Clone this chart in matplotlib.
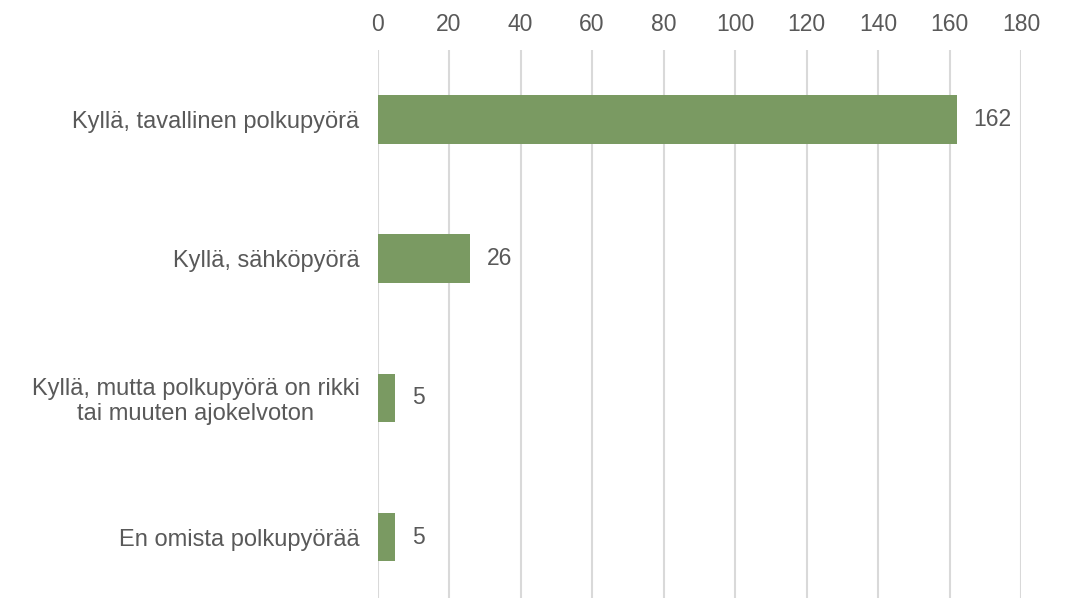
import matplotlib.pyplot as plt

categories = ["Kyllä, tavallinen polkupyörä",
              "Kyllä, sähköpyörä",
              "Kyllä, mutta polkupyörä on rikki\ntai muuten ajokelvoton",
              "En omista polkupyörää"]
values = [162, 26, 5, 5]
ticks = [0, 20, 40, 60, 80, 100, 120, 140, 160, 180]

plt.rcParams['font.family'] = ['Liberation Sans', 'DejaVu Sans']
txt = "#595959"

fig = plt.figure(figsize=(10.68, 5.98), dpi=100)
ax = fig.add_axes([0.3535, -0.0145, 0.6025, 0.931])

ypos = list(range(len(categories)))
ax.barh(ypos, values, height=0.35, color="#7A9A62", zorder=3)
for y, v in zip(ypos, values):
    ax.annotate(str(v), (v, y), xytext=(12, 0), textcoords="offset points",
                va="center", ha="left", fontsize=16.5, color=txt)

ax.set_ylim(3.5, -0.5)
ax.set_xlim(0, 180)
ax.set_yticks(ypos)
ax.set_yticklabels(categories, fontsize=17, color=txt, ha="right",
                   multialignment="center", linespacing=1.15)
ax.tick_params(axis="y", length=0, pad=13)
ax.set_xticks(ticks)
ax.xaxis.tick_top()
ax.tick_params(axis="x", length=0, pad=10, labelsize=16.5, labelcolor=txt)
ax.grid(axis="x", color="#D9D9D9", linewidth=1.5, zorder=0)
for s in ax.spines.values():
    s.set_visible(False)

fig.savefig("out.png", dpi=100)
